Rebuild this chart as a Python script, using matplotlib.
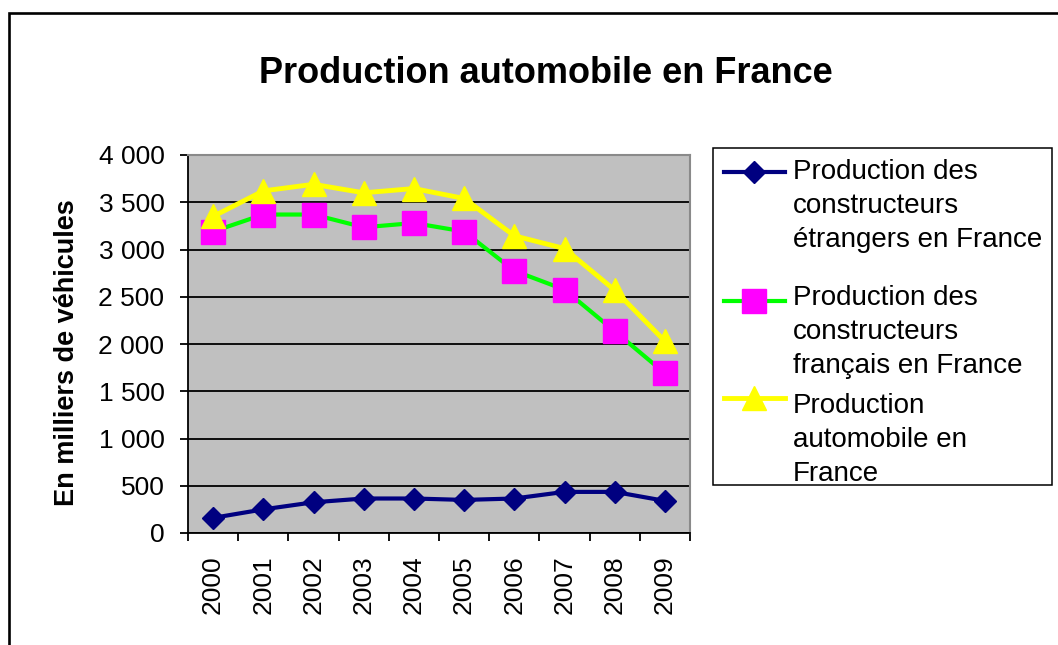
import matplotlib
matplotlib.use('Agg')
import matplotlib.pyplot as plt
import numpy as np
from matplotlib.lines import Line2D
from matplotlib.patches import Rectangle
from matplotlib.ticker import FuncFormatter

plt.rcParams['font.family'] = ['Liberation Sans', 'DejaVu Sans']

# Données (milliers de véhicules)
annees = ['2000', '2001', '2002', '2003', '2004', '2005', '2006', '2007', '2008', '2009']
etrangers = [160, 250, 325, 365, 365, 350, 365, 435, 435, 340]
francais = [3190, 3370, 3370, 3235, 3280, 3190, 2775, 2575, 2135, 1690]
total = [3350, 3620, 3690, 3600, 3645, 3540, 3145, 3010, 2570, 2030]

legende = [
    'Production des\nconstructeurs\nétrangers en France',
    'Production des\nconstructeurs\nfrançais en France',
    'Production\nautomobile en\nFrance',
]

W, H = 1058, 645
fig = plt.figure(figsize=(W / 100, H / 100), dpi=100)
fig.patch.set_facecolor('white')


def fx(x):
    return x / W


def fy(y):
    return 1 - y / H


# cadre extérieur (coupé à droite et en bas)
fig.add_artist(Rectangle((fx(8.5), fy(700)), 1.2, fy(13) - fy(700), transform=fig.transFigure,
                         fill=False, edgecolor='black', lw=1.9))

ax = fig.add_axes([fx(188), fy(533), fx(502), 378 / H])
ax.set_facecolor('#C0C0C0')

x = np.arange(len(annees))
styles = [
    dict(color='#000080', marker='D', ms=11, mfc='#000080', mec='#000080', lw=3),
    dict(color='#00FF00', marker='s', ms=17, mfc='#FF00FF', mec='#FF00FF', lw=3),
    dict(color='#FFFF00', marker='^', ms=17, mfc='#FFFF00', mec='#FFFF00', lw=3.5),
]
for serie, st in zip([etrangers, francais, total], styles):
    ax.plot(x, serie, clip_on=False, zorder=3, **st)

ax.set_xlim(-0.5, len(annees) - 0.5)
ax.set_ylim(0, 4000)
ax.set_yticks(np.arange(0, 4001, 500))
ax.yaxis.set_major_formatter(FuncFormatter(lambda v, p: f'{int(v):,}'.replace(',', ' ')))
ax.yaxis.grid(True, color='black', lw=1.3)
ax.set_axisbelow(True)

ax.set_xticks(np.arange(-0.5, len(annees), 1))
ax.set_xticklabels([])
ax.set_xticks(x, minor=True)
ax.set_xticklabels(annees, minor=True, rotation=90, fontsize=19)
ax.tick_params(axis='x', which='minor', length=0, pad=16)
ax.tick_params(axis='x', which='major', length=6, width=1.3, direction='out')
ax.tick_params(axis='y', length=6, width=1.3, pad=11, labelsize=19)

for side in ['left', 'bottom']:
    ax.spines[side].set_color('black')
    ax.spines[side].set_linewidth(1.3)
for side in ['top', 'right']:
    ax.spines[side].set_color('#8a8a8a')
    ax.spines[side].set_linewidth(1.5)

fig.text(fx(67), fy(353), 'En milliers de véhicules', fontsize=19.5, fontweight='bold',
         rotation=90, ha='center', va='center')

fig.text(fx(546), fy(83), 'Production automobile en France', fontsize=26,
         fontweight='bold', ha='center', va='baseline')

# légende dessinée à la main : le symbole est aligné sur la première ligne
fig.add_artist(Rectangle((fx(713), fy(485)), fx(1052 - 713), (485 - 148) / H,
                         transform=fig.transFigure, facecolor='white', edgecolor='black', lw=1.1))
marker_y = [172, 301, 398]
text_top = [159, 285, 393]
for lab, st, my, ty in zip(legende, styles, marker_y, text_top):
    fig.add_artist(Line2D([fx(724), fx(754), fx(785)], [fy(my)] * 3, transform=fig.transFigure,
                          markevery=[1], **st))
    fig.text(fx(793), fy(ty), lab, fontsize=20, ha='left', va='top', linespacing=1.39)

fig.savefig('out.png', dpi=100)
